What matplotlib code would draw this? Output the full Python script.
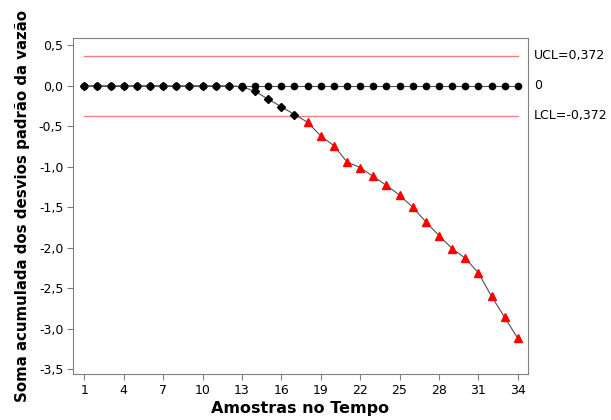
import matplotlib
matplotlib.use("Agg")
import matplotlib.pyplot as plt
import matplotlib.transforms as mtransforms
import numpy as np

# CUSUM data
samples = list(range(1, 35))
upper = [0.0] * 34
lower = [0.0] * 12 + [-0.01, -0.07, -0.165, -0.26, -0.355, -0.45, -0.62, -0.74,
                      -0.94, -1.01, -1.12, -1.23, -1.35, -1.50, -1.68, -1.85,
                      -2.01, -2.13, -2.31, -2.60, -2.86, -3.12]
ucl, lcl = 0.372, -0.372
out_start = 18  # first sample beyond LCL (drawn as red triangles)

xticks = [1, 4, 7, 10, 13, 16, 19, 22, 25, 28, 31, 34]
yticks = [0.5, 0.0, -0.5, -1.0, -1.5, -2.0, -2.5, -3.0, -3.5]
ytick_labels = ["0,5", "0,0", "-0,5", "-1,0", "-1,5", "-2,0", "-2,5", "-3,0", "-3,5"]

plt.rcParams['font.family'] = ['DejaVu Sans']
fig = plt.figure(figsize=(6.11, 4.20), dpi=100)
ax = fig.add_axes([0.1195, 0.1095, 0.7447, 0.800])

x = np.array(samples)
lo = np.array(lower)
up = np.array(upper)

ax.plot([1, 34], [ucl, ucl], color="#f08080", lw=1.0, zorder=1)
ax.plot([1, 34], [lcl, lcl], color="#f08080", lw=1.0, zorder=1)

ax.plot(x, lo, color="#505050", lw=0.8, zorder=2)
inside = x < out_start
ax.plot(x[inside], lo[inside], ls="none", marker="D", ms=4, color="black", zorder=3)
ax.plot(x[~inside], lo[~inside], ls="none", marker="^", ms=5.5, color="red", zorder=3)

ax.plot(x, up, color="#505050", lw=0.8, zorder=4)
ax.plot(x, up, ls="none", marker="o", ms=4.5, color="black", zorder=5)

ax.set_xlim(0.14, 34.78)
ax.set_ylim(-3.56, 0.59)
ax.set_xticks(xticks)
ax.set_xticklabels([str(t) for t in xticks])
ax.set_yticks(yticks)
ax.set_yticklabels(ytick_labels)
ax.tick_params(direction="out", length=4, color="#808080", labelsize=9, pad=3)
for s in ax.spines.values():
    s.set_color("#808080")

trans = mtransforms.blended_transform_factory(ax.transAxes, ax.transData)
ax.text(1.013, ucl, "UCL=0,372", transform=trans, va="center", ha="left", fontsize=9)
ax.text(1.013, 0.0, "0", transform=trans, va="center", ha="left", fontsize=9)
ax.text(1.013, lcl, "LCL=-0,372", transform=trans, va="center", ha="left", fontsize=9)

ax.set_xlabel("Amostras no Tempo", fontsize=11.5, fontweight="bold", labelpad=3)
ax.set_ylabel("Soma acumulada dos desvios padrão da vazão", fontsize=10.8, fontweight="bold", labelpad=6)

fig.savefig("out.png", dpi=100)
